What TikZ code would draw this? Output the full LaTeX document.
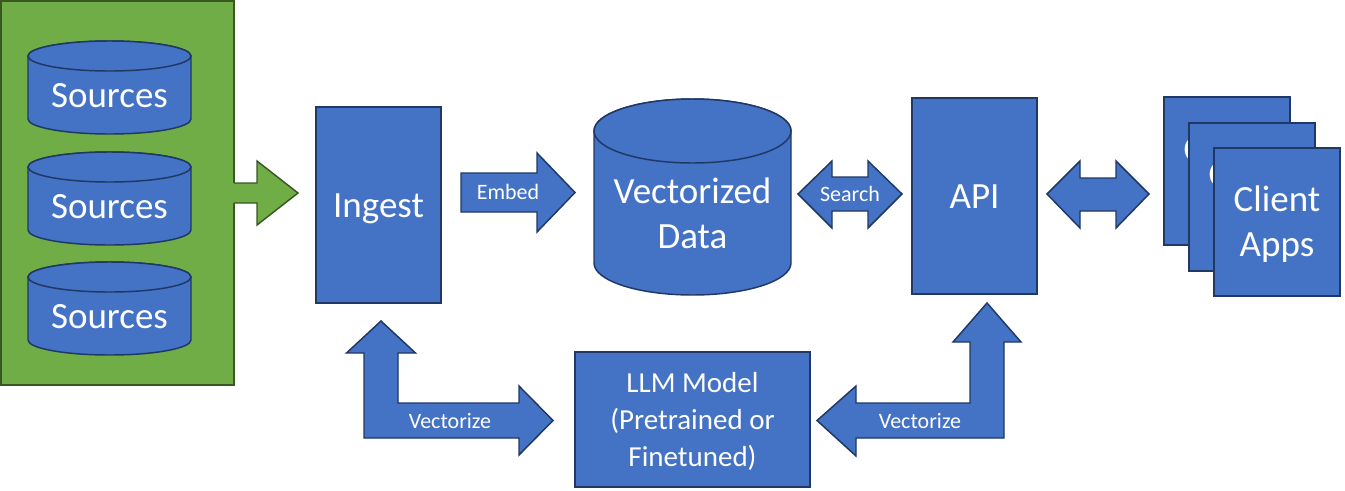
\documentclass[tikz,border=0pt]{standalone}
\usepackage{fontspec}
\setmainfont{Carlito}
\definecolor{blu}{HTML}{4472C4}
\definecolor{bluedge}{HTML}{1F3864}
\definecolor{grn}{HTML}{70AD47}
\definecolor{grnedge}{HTML}{385723}
\newcommand\pstr{\vrule width0pt height0.952em depth0.269em\relax}
\tikzset{
  bigtxt/.style={font=\fontsize{27.75}{33.9}\selectfont, text=white, align=center, inner sep=0pt},
  midtxt/.style={font=\fontsize{21.75}{26.5}\selectfont, text=white, align=center, inner sep=0pt},
  smalltxt/.style={font=\fontsize{16.5}{20.1}\selectfont, text=white, align=center, inner sep=0pt},
  boxst/.style={draw=bluedge, fill=blu, line width=1.5pt, rectangle, inner sep=0pt},
  shp/.style={draw=bluedge, fill=blu, line width=1.1pt, line join=miter},
}
\newcommand\mycyl[7]{%
  \draw[shp] (#2,#4+#6) -- (#2,#5-#6)
    arc[start angle=180,end angle=360,x radius={(#3-#2)/2*0.75pt},y radius={#6*0.75pt}]
    -- (#3,#4+#6)
    arc[start angle=0,end angle=180,x radius={(#3-#2)/2*0.75pt},y radius={#6*0.75pt}] -- cycle;
  \draw[shp] ({(#2+#3)/2},#4+#6) ellipse[x radius={(#3-#2)/2*0.75pt},y radius={#6*0.75pt}];
  \node[bigtxt] (#1) at ({(#2+#3)/2},{(#4+#5)/2+#6/2}) {#7};
}
\begin{document}
\begin{tikzpicture}[x=0.75pt,y=-0.75pt]
\useasboundingbox (0,0) rectangle (1345,490);

% sources group
\node[draw=grnedge, fill=grn, line width=1.5pt, minimum width=174.75pt, minimum height=288pt, inner sep=0pt] (group) at (117.5,193) {};
\mycyl{src1}{28}{191}{41}{134}{15}{\pstr Sources}
\mycyl{src2}{28}{191}{152}{245}{15}{\pstr Sources}
\mycyl{src3}{28}{191}{262}{355}{15}{\pstr Sources}
\fill[grn] (232.6,183) -- (257,183) -- (257,161) -- (298,193) -- (257,225) -- (257,203) -- (232.6,203) -- cycle;
\draw[grnedge, line width=1.1pt, line join=miter] (234,183) -- (257,183) -- (257,161) -- (298,193) -- (257,225) -- (257,203) -- (234,203);

% ingest
\node[boxst, bigtxt, minimum width=93.75pt, minimum height=147pt] (ingest) at (378.5,205) {\pstr Ingest};

% embed arrow
\draw[shp] (461,173) -- (537,173) -- (537,153) -- (575,192.5) -- (537,232) -- (537,212) -- (461,212) -- cycle;
\node[smalltxt] (embed) at (508,191.5) {\pstr Embed};

% vectorized data
\mycyl{vdata}{594}{791}{99}{295}{32}{\pstr Vectorized\\\pstr Data}

% search arrow
\draw[shp] (798,194) -- (832,161) -- (832,177) -- (868,177) -- (868,161) -- (902,194) -- (868,228) -- (868,211) -- (832,211) -- (832,228) -- cycle;
\node[smalltxt] (search) at (850,194) {\pstr Search};

% API
\node[boxst, bigtxt, minimum width=93.75pt, minimum height=147pt] (api) at (974.5,196) {\pstr API};

% api-client arrow
\draw[shp] (1047,194) -- (1080,161) -- (1080,178) -- (1116,178) -- (1116,161) -- (1149,194) -- (1116,228) -- (1116,211) -- (1080,211) -- (1080,228) -- cycle;

% client apps
\node[boxst, bigtxt, minimum width=94.5pt, minimum height=111pt] (client1) at (1227,171) {\pstr Client\\\pstr Apps};
\node[boxst, bigtxt, minimum width=94.5pt, minimum height=111pt] (client2) at (1252,196.5) {\pstr Client\\\pstr Apps};
\node[boxst, bigtxt, minimum width=94.5pt, minimum height=111pt] (client3) at (1277,221.5) {\pstr Client\\\pstr Apps};

% left bent arrow
\draw[shp] (381,321) -- (415.5,353) -- (398,353) -- (398,403) -- (519,403) -- (519,386) -- (553,420.5) -- (519,455) -- (519,438) -- (364,438) -- (364,353) -- (346.5,353) -- cycle;
\node[smalltxt] (vec1) at (450,420.5) {\pstr Vectorize};

% right bent arrow
\draw[shp] (987,303) -- (1021,342) -- (1004,342) -- (1004,438) -- (856,438) -- (856,456) -- (817,420.5) -- (856,386) -- (856,403) -- (970,403) -- (970,342) -- (953,342) -- cycle;
\node[smalltxt] (vec2) at (920,420.5) {\pstr Vectorize};

% LLM
\node[boxst, midtxt, minimum width=176.25pt, minimum height=101.25pt] (llm) at (692.5,419.5) {\pstr LLM Model\\\pstr (Pretrained or\\\pstr Finetuned)};
\end{tikzpicture}
\end{document}
